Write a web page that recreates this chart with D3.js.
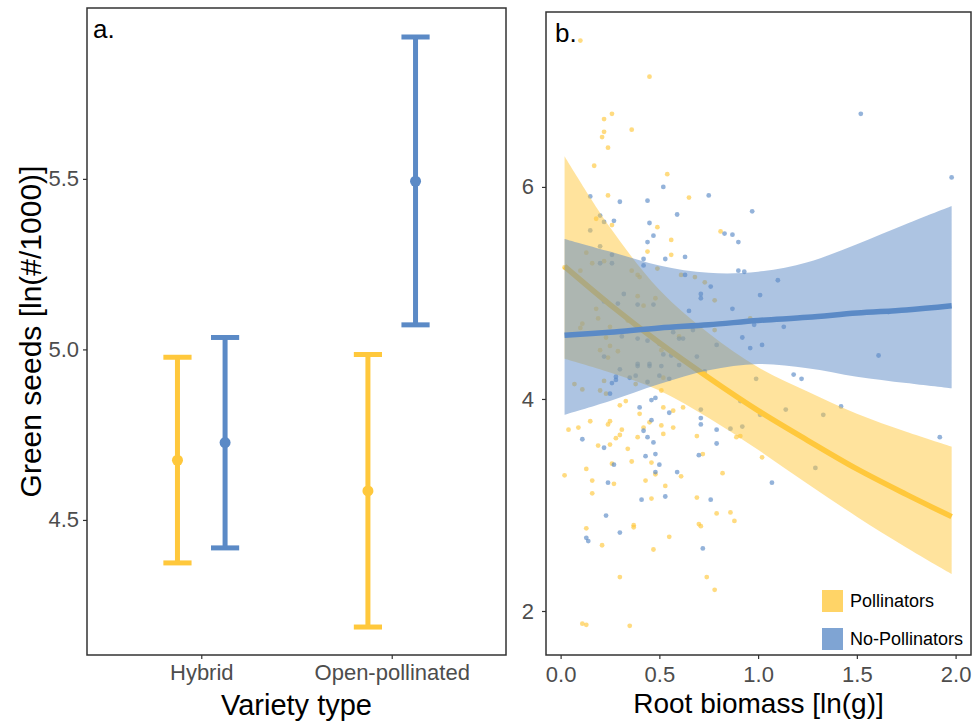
<!DOCTYPE html>
<html>
<head>
<meta charset="utf-8">
<script src="https://cdn.jsdelivr.net/npm/d3@7"></script>
<style>
  body { margin: 0; background: #fff; }
  svg { display: block; font-family: "Liberation Sans", Arial, sans-serif; }
</style>
</head>
<body>
<div id="chart"></div>
<script>
// ---- panel a data: estimated means and interval limits per variety type
const varieties = ['Hybrid', 'Open-pollinated'];
const groups = ['Pollinators', 'No-Pollinators'];
const pollMean = [4.675, 4.585];
const pollLow = [4.374, 4.186];
const pollHigh = [4.977, 4.985];
const noPollMean = [4.727, 5.493];
const noPollLow = [4.418, 5.072];
const noPollHigh = [5.035, 5.916];
const seedTicks = [4.5, 5.0, 5.5];

// ---- panel b data: fitted curves with confidence band
const fitX = [0.02, 0.25, 0.5, 0.75, 1.0, 1.25, 1.5, 1.75, 1.98];
const pollFit = [5.25, 4.89, 4.53, 4.20, 3.89, 3.61, 3.34, 3.10, 2.89];
const pollFitLow = [4.38, 4.25, 4.08, 3.82, 3.52, 3.20, 2.89, 2.60, 2.35];
const pollFitHigh = [6.29, 5.62, 5.03, 4.62, 4.30, 4.07, 3.86, 3.69, 3.55];
const noPollFit = [4.60, 4.63, 4.67, 4.70, 4.74, 4.77, 4.81, 4.84, 4.88];
const noPollFitLow = [3.85, 3.98, 4.14, 4.27, 4.33, 4.29, 4.21, 4.15, 4.10];
const noPollFitHigh = [5.51, 5.39, 5.26, 5.19, 5.20, 5.29, 5.46, 5.65, 5.82];
const biomassTicks = [0, 0.5, 1.0, 1.5, 2.0];
const greenTicks = [2, 4, 6];

// observations [root biomass, green seeds]
const pollPoints = [
  [0.10,7.38],[0.45,7.04],[0.26,6.69],[0.22,6.64],[0.22,6.52],[0.21,6.47],[0.36,6.54],[0.24,6.37],
  [0.17,6.20],[0.54,6.12],[0.24,5.92],[0.65,5.90],
  [0.18,5.70],[0.26,5.64],[0.49,5.62],[0.56,5.50],[0.44,5.39],[0.56,5.36],[0.13,5.38],[0.16,5.28],
  [0.22,5.30],[0.02,5.24],[0.10,5.21],[0.36,5.21],[0.39,5.17],[0.40,5.15],[0.49,5.23],[0.61,5.17],
  [0.68,5.15],[0.73,5.10],[0.39,4.97],[0.48,4.95],[0.42,4.88],[0.18,4.85],[0.19,4.76],[0.34,4.74],
  [0.11,4.71],[0.10,4.67],[0.25,4.68],[0.34,4.64],[0.23,4.58],[0.60,4.68],[0.60,4.59],
  [0.25,4.50],[0.20,4.46],[0.29,4.45],[0.24,4.39],[0.51,4.46],[0.22,4.17],[0.07,4.14],[0.11,4.09],
  [0.20,4.08],[0.23,4.05],[0.38,4.14],[0.52,4.20],[0.51,4.08],[0.30,3.94],[0.33,3.98],[0.40,3.86],
  [0.52,3.92],[0.57,3.89],[0.62,3.92],[0.04,3.71],[0.09,3.73],[0.15,3.79],[0.24,3.76],[0.25,3.79],
  [0.31,3.71],[0.30,3.66],[0.28,3.63],[0.25,3.57],[0.19,3.56],[0.34,3.53],[0.39,3.64],[0.42,3.73],
  [0.45,3.78],[0.51,3.75],[0.52,3.67],[0.57,3.73],[0.69,3.65],[0.72,3.48],[0.26,3.39],[0.36,3.41],
  [0.46,3.40],[0.13,3.34],[0.02,3.28],[0.61,3.27],
  [0.16,3.23],[0.16,3.11],[0.27,3.20],[0.43,3.23],[0.48,3.29],[0.53,3.18],[0.46,3.06],[0.69,3.07],
  [0.13,2.78],[0.37,2.81],[0.37,2.79],[0.70,2.82],[0.71,2.80],[0.21,2.62],[0.55,2.70],[0.47,2.58],
  [0.30,2.32],[0.74,2.32],[0.11,1.88],[0.13,1.87],[0.35,1.86],
  [0.81,5.58],[0.78,4.93],[0.96,4.76],[0.78,4.65],
  [0.89,3.64],[0.91,3.65],[1.02,3.45],[0.82,3.30],[0.79,2.92],[0.86,2.93],[0.88,2.85],[0.78,2.20]
];
const noPollPoints = [
  [0.52,6.00],[0.75,5.92],[0.15,5.91],[0.30,5.86],[0.44,5.87],[0.20,5.73],[0.22,5.67],[0.27,5.68],
  [0.15,5.59],[0.59,5.74],[0.45,5.66],[0.47,5.54],[0.44,5.48],[0.20,5.44],[0.26,5.36],[0.20,5.28],
  [0.26,5.28],[0.42,5.32],[0.53,5.32],[0.63,5.34],[0.42,5.26],[0.63,5.17],[0.32,4.99],[0.22,4.92],
  [0.29,4.90],[0.39,4.89],[0.47,4.89],[0.71,4.99],[0.71,4.95],[0.65,4.83],[0.31,4.59],[0.39,4.57],
  [0.57,4.63],[0.60,4.57],[0.62,4.57],[0.67,4.65],[0.76,5.06],
  [0.44,4.55],[0.50,4.52],[0.69,4.40],[0.22,4.40],[0.52,4.42],[0.56,4.41],[0.60,4.32],[0.30,4.28],
  [0.39,4.33],[0.39,4.31],[0.45,4.31],[0.45,4.33],[0.51,4.31],[0.28,4.21],[0.28,4.18],[0.35,4.20],
  [0.38,4.22],[0.50,4.22],[0.26,4.15],[0.44,4.16],[0.55,4.19],[0.25,4.05],[0.73,4.26],[0.46,3.99],
  [0.48,4.01],[0.40,3.92],[0.55,3.87],[0.71,3.90],[0.71,3.82],[0.71,3.76],[0.46,3.80],[0.11,3.62],
  [0.42,3.70],[0.44,3.64],[0.47,3.59],[0.22,3.54],[0.48,3.48],[0.43,3.46],[0.27,3.38],[0.50,3.38],
  [0.70,3.47],[0.48,3.31],[0.59,3.31],
  [0.24,3.21],[0.41,3.05],[0.53,3.08],[0.76,3.05],[0.23,2.90],[0.30,2.74],[0.13,2.69],[0.14,2.66],
  [0.72,2.59],
  [1.52,6.69],[1.98,6.09],[0.97,5.77],[0.83,5.56],[0.87,5.55],[0.90,5.48],[0.90,5.21],[0.93,5.20],
  [1.10,5.12],[1.01,4.98],[0.87,4.85],[1.66,4.82],[0.98,4.70],[1.13,4.68],[0.92,4.58],[1.02,4.51],
  [0.96,4.48],[0.79,4.51],[1.61,4.41],
  [1.18,4.23],[1.22,4.19],[0.99,4.19],[0.91,3.98],[1.14,3.90],[1.42,3.93],[1.33,3.85],[1.01,3.85],
  [0.79,3.71],[0.86,3.72],[0.92,3.74],[0.79,3.58],[1.92,3.64],[1.29,3.35],[1.07,3.21]
];

const yellow = '#ffc83c';
const blue = '#5b8ac6';
const colors = [yellow, blue];
const axisGrey = '#4d4d4d';

const svg = d3.select('#chart')
  .append('svg')
  .attr('width', 975)
  .attr('height', 721);

// ================= panel a =================
const a = { left: 87, right: 506, top: 8, bottom: 655 };

const xA = d3.scalePoint()
  .domain(varieties)
  .range([a.left, a.right])
  .padding(0.6);
const yA = d3.scaleLinear()
  .domain([4.104, 6.001])
  .range([a.bottom, a.top]);

const dodge = xA.step() * 0.125;
const capHalf = xA.step() * 0.074;

const barData = [];
varieties.forEach((v, i) => {
  barData.push({ v, g: 0, mean: pollMean[i], lo: pollLow[i], hi: pollHigh[i] });
  barData.push({ v, g: 1, mean: noPollMean[i], lo: noPollLow[i], hi: noPollHigh[i] });
});

const gA = svg.append('g');
const bars = gA.selectAll('.bar')
  .data(barData)
  .enter()
  .append('g')
  .attr('class', 'bar')
  .attr('transform', d => `translate(${xA(d.v) + (d.g === 0 ? -dodge : dodge)},0)`);

bars.append('line')
  .attr('x1', 0).attr('x2', 0)
  .attr('y1', d => yA(d.lo)).attr('y2', d => yA(d.hi))
  .attr('stroke', d => colors[d.g]).attr('stroke-width', 5);
bars.append('line')
  .attr('x1', -capHalf).attr('x2', capHalf)
  .attr('y1', d => yA(d.hi)).attr('y2', d => yA(d.hi))
  .attr('stroke', d => colors[d.g]).attr('stroke-width', 5);
bars.append('line')
  .attr('x1', -capHalf).attr('x2', capHalf)
  .attr('y1', d => yA(d.lo)).attr('y2', d => yA(d.lo))
  .attr('stroke', d => colors[d.g]).attr('stroke-width', 5);
bars.append('circle')
  .attr('cx', 0)
  .attr('cy', d => yA(d.mean))
  .attr('r', 5.5)
  .attr('fill', d => colors[d.g]);

gA.append('rect')
  .attr('x', a.left).attr('y', a.top)
  .attr('width', a.right - a.left).attr('height', a.bottom - a.top)
  .attr('fill', 'none').attr('stroke', '#333').attr('stroke-width', 1.5);

const axAy = gA.append('g')
  .attr('transform', `translate(${a.left},0)`)
  .call(d3.axisLeft(yA).tickValues(seedTicks).tickFormat(d3.format('.1f')).tickSize(4).tickPadding(4));
const axAx = gA.append('g')
  .attr('transform', `translate(0,${a.bottom})`)
  .call(d3.axisBottom(xA).tickSize(4).tickPadding(5));

gA.append('text')
  .attr('x', 93).attr('y', 38)
  .style('font-size', '26px').attr('fill', '#000')
  .text('a.');

gA.append('text')
  .attr('transform', `translate(41,${(a.top + a.bottom) / 2}) rotate(-90)`)
  .attr('text-anchor', 'middle')
  .style('font-size', '30px').attr('fill', '#000')
  .text('Green seeds [ln(#/1000)]');

gA.append('text')
  .attr('x', (a.left + a.right) / 2).attr('y', 715)
  .attr('text-anchor', 'middle')
  .style('font-size', '29px').attr('fill', '#000')
  .text('Variety type');

// ================= panel b =================
const b = { left: 546, right: 971, top: 12, bottom: 655 };

const xB = d3.scaleLinear()
  .domain([-0.074, 2.078])
  .range([b.left, b.right]);
const yB = d3.scaleLinear()
  .domain([1.585, 7.65])
  .range([b.bottom, b.top]);

const gB = svg.append('g');

// points under the bands
gB.selectAll('.pt-poll')
  .data(pollPoints)
  .enter()
  .append('circle')
  .attr('class', 'pt-poll')
  .attr('cx', d => xB(d[0]))
  .attr('cy', d => yB(d[1]))
  .attr('r', 2.4)
  .attr('fill', yellow)
  .attr('opacity', 0.65);
gB.selectAll('.pt-nopoll')
  .data(noPollPoints)
  .enter()
  .append('circle')
  .attr('class', 'pt-nopoll')
  .attr('cx', d => xB(d[0]))
  .attr('cy', d => yB(d[1]))
  .attr('r', 2.4)
  .attr('fill', blue)
  .attr('opacity', 0.65);

const band = d3.area()
  .x(d => xB(d.x))
  .y0(d => yB(d.lo))
  .y1(d => yB(d.hi))
  .curve(d3.curveCatmullRom);
const fitLine = d3.line()
  .x(d => xB(d.x))
  .y(d => yB(d.y))
  .curve(d3.curveCatmullRom);

const fits = [
  { fit: pollFit, lo: pollFitLow, hi: pollFitHigh },
  { fit: noPollFit, lo: noPollFitLow, hi: noPollFitHigh }
];

fits.forEach((f, g) => {
  const rows = fitX.map((x, i) => ({ x, y: f.fit[i], lo: f.lo[i], hi: f.hi[i] }));
  gB.append('path')
    .datum(rows)
    .attr('d', band)
    .attr('fill', colors[g])
    .attr('opacity', 0.5);
  gB.append('path')
    .datum(rows)
    .attr('d', fitLine)
    .attr('fill', 'none')
    .attr('stroke', colors[g])
    .attr('stroke-width', 5.5);
});

gB.append('rect')
  .attr('x', b.left).attr('y', b.top)
  .attr('width', b.right - b.left).attr('height', b.bottom - b.top)
  .attr('fill', 'none').attr('stroke', '#333').attr('stroke-width', 1.5);

const axBy = gB.append('g')
  .attr('transform', `translate(${b.left},0)`)
  .call(d3.axisLeft(yB).tickValues(greenTicks).tickFormat(d3.format('d')).tickSize(4).tickPadding(8));
const axBx = gB.append('g')
  .attr('transform', `translate(0,${b.bottom})`)
  .call(d3.axisBottom(xB).tickValues(biomassTicks).tickFormat(d3.format('.1f')).tickSize(4).tickPadding(7));

gB.append('text')
  .attr('x', 555).attr('y', 42)
  .style('font-size', '26px').attr('fill', '#000')
  .text('b.');

gB.append('text')
  .attr('x', (b.left + b.right) / 2).attr('y', 713)
  .attr('text-anchor', 'middle')
  .style('font-size', '28px').attr('fill', '#000')
  .text('Root biomass [ln(g)]');

// legend
const legend = gB.append('g')
  .attr('transform', 'translate(822,590)');
groups.forEach((name, i) => {
  const row = legend.append('g')
    .attr('transform', `translate(0,${i * 38})`);
  row.append('rect')
    .attr('width', 21).attr('height', 22)
    .attr('fill', colors[i])
    .attr('opacity', 0.78);
  row.append('text')
    .attr('x', 28).attr('y', 11)
    .attr('dy', '0.35em')
    .style('font-size', '18px')
    .attr('fill', '#000')
    .text(name);
});

// shared axis styling
[axAy, axAx, axBy, axBx].forEach(ax => {
  ax.select('.domain').remove();
  ax.selectAll('.tick line').attr('stroke', '#333').attr('stroke-width', 1.2);
  ax.selectAll('.tick text')
    .attr('fill', axisGrey)
    .style('font-size', '22px')
    .style('font-family', '"Liberation Sans", Arial, sans-serif');
});
</script>
</body>
</html>
